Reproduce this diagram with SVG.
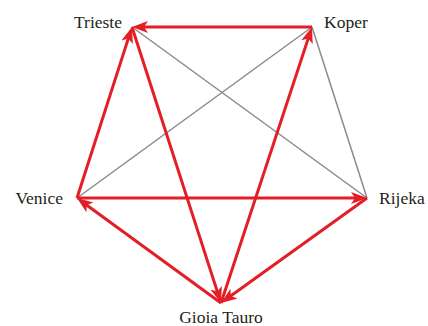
<svg xmlns="http://www.w3.org/2000/svg" width="428" height="326" viewBox="0 0 428 326">
<style>
.bg{fill:#ffffff}
.red{stroke:#e31e24;stroke-width:3;fill:none;marker-end:url(#ah)}
.gray{stroke:#8a8a8a;stroke-width:1.5;fill:none}
.lbl{font-family:"Liberation Serif",serif;font-size:17.5px;fill:#231f20}
</style>
<defs>
<marker id="ah" markerUnits="userSpaceOnUse" markerWidth="18" markerHeight="14" refX="8" refY="6" orient="auto" viewBox="0 0 18 12">
<path d="M0,0 L16,6 L0,12 L4,6 z" fill="#e31e24"/>
</marker>
</defs>
<rect class="bg" x="0" y="0" width="428" height="326"/>
<g id="connectors">
<line class="gray" x1="132" y1="27" x2="367" y2="198"/>
<line class="gray" x1="312" y1="27" x2="77" y2="198"/>
<line class="gray" x1="312" y1="27" x2="367" y2="198"/>
<line class="red" x1="312" y1="27" x2="140" y2="27"/>
<line class="red" x1="77" y1="198" x2="129.55" y2="34.62"/>
<line class="red" x1="132" y1="27" x2="218.54" y2="295.39"/>
<line class="red" x1="221" y1="303" x2="309.5" y2="34.6"/>
<line class="red" x1="77" y1="198" x2="359" y2="198"/>
<line class="red" x1="221" y1="303" x2="83.46" y2="202.71"/>
<line class="red" x1="367" y1="198" x2="227.5" y2="298.33"/>
</g>
<g id="trieste"><text class="lbl" x="122" y="28" text-anchor="end">Trieste</text></g>
<g id="koper"><text class="lbl" x="324" y="28">Koper</text></g>
<g id="venice"><text class="lbl" x="63" y="204" text-anchor="end">Venice</text></g>
<g id="rijeka"><text class="lbl" x="379" y="204">Rijeka</text></g>
<g id="gioia-tauro"><text class="lbl" x="221" y="323" text-anchor="middle">Gioia Tauro</text></g>
</svg>
